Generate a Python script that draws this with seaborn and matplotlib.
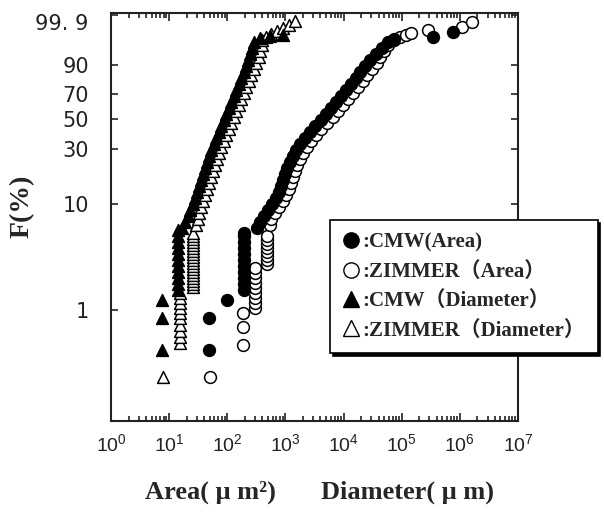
import numpy as np
import pandas as pd
import seaborn as sns
import matplotlib.pyplot as plt
from matplotlib.lines import Line2D
from matplotlib.transforms import ScaledTranslation
from matplotlib.ticker import FixedLocator, NullLocator, LogLocator, FuncFormatter, NullFormatter

# data: x value and cumulative probability F (%)
cmw_dia_x = [7.5, 7.5, 7.5,
             14, 14, 14, 14, 14, 14, 14, 14, 14, 14, 14,
             16.6, 18.7, 21.1, 22.8, 25.6, 27.8, 30.1, 32.6, 35.3, 38.1, 41.4, 44.7,
             48.5, 52.4, 59.0, 63.9, 71.9, 78.0, 87.7, 95.0, 108, 115, 130, 141,
             159, 173, 193, 210, 227, 246, 266, 288, 365, 543, 908]
cmw_dia_f = [0.41, 0.84, 1.25,
             1.56, 1.77, 2.02, 2.31, 2.63, 3.00, 3.42, 3.90, 4.44, 5.06, 5.76,
             6.01, 6.84, 7.77, 8.82, 10.0, 11.4, 12.9, 14.6, 16.5, 18.6, 20.9, 23.5,
             26.4, 29.5, 32.9, 36.6, 40.6, 44.9, 49.3, 54.0, 58.8, 63.7, 68.6, 73.4,
             77.9, 82.2, 86.1, 89.5, 92.4, 94.7, 96.5, 97.8, 98.5, 98.75, 98.86]

zim_dia_x = [7.8,
             15.4, 15.4, 15.4, 15.4, 15.4, 15.4, 15.4, 15.4, 15.4, 15.4,
             25.7, 25.7, 25.7, 25.7, 25.7, 25.7, 25.7, 25.7, 25.7, 25.7,
             25.7, 25.7, 25.7, 25.7, 25.7, 25.7, 25.7, 25.7, 25.7,
             28.9, 30.8, 32.4, 35.1, 38.1, 41.3, 44.7, 48.4, 52.4, 56.7, 61.3, 66.3,
             71.9, 77.9, 87.7, 94.8, 106, 116, 131, 141, 159, 172, 193, 210, 235,
             255, 287, 313, 346, 367, 394, 400, 463, 565, 716, 908, 1153, 1462]
zim_dia_f = [0.227,
             0.48, 0.55, 0.63, 0.72, 0.84, 0.94, 1.05, 1.17, 1.30, 1.46,
             1.66, 1.77, 1.90, 2.02, 2.16, 2.31, 2.47, 2.63, 2.81, 3.00,
             3.21, 3.42, 3.65, 3.90, 4.16, 4.44, 4.74, 5.06, 5.40,
             6.41, 7.29, 8.28, 9.40, 10.7, 12.1, 13.7, 15.5, 17.5, 19.7, 22.2, 24.9,
             27.9, 31.2, 34.7, 38.6, 42.7, 47.1, 51.7, 56.4, 61.3, 66.2, 71.0, 75.7, 80.1,
             84.2, 87.8, 91.0, 93.6, 95.7, 97.2, 98.2, 98.6, 98.97, 99.25, 99.46, 99.63, 99.78]

cmw_area_x = [48.5, 48.5, 98.9,
              190, 190, 190, 190, 190, 190, 190, 190, 190, 190, 190,
              324, 365, 427, 501, 588, 675, 760, 839, 907, 984, 1064, 1175,
              1324, 1520, 1781, 2130, 2595, 3225, 4091, 5084, 6199, 7556, 9206, 11220,
              13680, 16360, 19540, 23820, 29040, 36120, 45810, 58070, 73800, 345200, 762500]
cmw_area_f = [0.41, 0.84, 1.25,
              1.56, 1.77, 2.02, 2.31, 2.63, 3.00, 3.42, 3.90, 4.44, 5.06, 5.40,
              6.01, 6.84, 7.77, 8.82, 10.0, 11.4, 12.9, 14.6, 16.5, 18.6, 20.9, 23.5,
              26.4, 29.5, 32.9, 36.6, 40.6, 44.9, 49.3, 54.0, 58.8, 63.7, 68.6, 73.4,
              77.9, 82.2, 86.1, 89.5, 92.4, 94.7, 96.5, 97.8, 98.34, 98.62, 99.17]

zim_area_x = [50,
              186, 186, 186,
              300, 300, 300, 300, 300, 300, 300, 300, 300,
              482, 482, 482, 482, 482, 482, 482, 482,
              541, 572, 661, 774, 907, 1021, 1150, 1245, 1348, 1458, 1578, 1777,
              2002, 2345, 2749, 3351, 4083, 5174, 6571, 8008, 9763, 11900, 14520,
              17680, 21550, 25250, 30780, 37510, 42260, 49490, 58020, 73800, 93500,
              118600, 144500, 283400, 1090000, 1620000]
zim_area_f = [0.227,
              0.46, 0.69, 0.94,
              1.05, 1.17, 1.30, 1.46, 1.62, 1.81, 2.02, 2.26, 2.52,
              2.75, 3.00, 3.28, 3.58, 3.90, 4.25, 4.64, 5.06,
              6.41, 7.29, 8.28, 9.40, 10.7, 12.1, 13.7, 15.5, 17.5, 19.7, 22.2, 24.9,
              27.9, 31.2, 34.7, 38.6, 42.7, 47.1, 51.7, 56.4, 61.3, 66.2, 71.0,
              75.7, 80.1, 84.2, 87.8, 91.0, 93.6, 95.7, 97.2, 98.2, 98.6,
              98.86, 99.08, 99.33, 99.52, 99.75]

y_ticks = [1, 10, 30, 50, 70, 90, 99.9]
y_labels = ["1", "10", "30", "50", "70", "90", "99. 9"]


# weibull probability scale
def fwd(p):
    p = np.clip(np.asarray(p, dtype=float), 1e-7, 100 - 1e-7)
    return np.log(-np.log(1 - p / 100))


def inv(w):
    return 100 * (1 - np.exp(-np.exp(w)))


sns.set_style("ticks")
serif = ["Liberation Serif", "Noto Sans CJK JP"]

fig = plt.figure(figsize=(6.04, 5.12), dpi=100)
ax = fig.add_axes([0.1838, 0.1777, 0.6738, 0.7969])

series = [
    (zim_dia_x, zim_dia_f, "^", "white"),
    (cmw_dia_x, cmw_dia_f, "^", "black"),
    (zim_area_x, zim_area_f, "o", "white"),
    (cmw_area_x, cmw_area_f, "o", "black"),
]
for xs, fs, mk, fc in series:
    d = pd.DataFrame({"x": xs, "F": fs})
    sns.scatterplot(data=d, x="x", y="F", marker=mk, color=fc, edgecolor="black",
                    linewidth=1.1, s=72, ax=ax, legend=False, zorder=3)

ax.set_xscale("log")
ax.set_yscale("function", functions=(fwd, inv))
ax.set_xlim(1, 1e7)
ax.set_ylim(0.0857, 99.932)

ax.xaxis.set_major_locator(LogLocator(base=10, numticks=20))
ax.xaxis.set_minor_locator(LogLocator(base=10, subs=np.arange(2, 10), numticks=100))
ax.xaxis.set_major_formatter(FuncFormatter(lambda v, p: r"$\mathregular{10^{%d}}$" % round(np.log10(v))))
ax.xaxis.set_minor_formatter(NullFormatter())
ax.yaxis.set_major_locator(FixedLocator(y_ticks))
ax.yaxis.set_minor_locator(NullLocator())
ax.set_yticklabels(y_labels)

ax.tick_params(which="both", direction="in", top=True, right=True, colors="#222222", width=1.2)
ax.tick_params(axis="x", which="major", length=6, pad=9, labelsize=14)
ax.tick_params(axis="x", which="minor", length=3.5)
ax.tick_params(axis="y", which="major", length=5, pad=16, labelsize=15)
for lab in ax.get_xticklabels():
    lab.set_family("Liberation Sans")
for lab in ax.get_yticklabels():
    lab.set_family("DejaVu Sans")
for sp in ax.spines.values():
    sp.set_linewidth(1.5)
    sp.set_color("#222222")
ax.set_xlabel("")
ax.set_ylabel("")

# the 99.9 label sits a little below its tick in the original
top_tick = ax.yaxis.get_major_ticks()[-1]
top_tick.label1.set_transform(top_tick.label1.get_transform()
                              + ScaledTranslation(0, -0.07, fig.dpi_scale_trans))

fig.text(22 / 604, 1 - 206 / 512, "F(%)", rotation=90, ha="center", va="center",
         family=serif, weight="bold", fontsize=20)
fig.text(210 / 604, 1 - 492 / 512, "Area( μ m²)", ha="center", va="center",
         family=serif, weight="bold", fontsize=19)
fig.text(407 / 604, 1 - 492 / 512, "Diameter( μ m)", ha="center", va="center",
         family=serif, weight="bold", fontsize=19)

handles = [
    Line2D([], [], ls="none", marker="o", mfc="black", mec="black", ms=11),
    Line2D([], [], ls="none", marker="o", mfc="white", mec="black", ms=11),
    Line2D([], [], ls="none", marker="^", mfc="black", mec="black", ms=11),
    Line2D([], [], ls="none", marker="^", mfc="white", mec="black", ms=11),
]
labels = [":CMW(Area)", ":ZIMMER（Area）", ":CMW（Diameter）", ":ZIMMER（Diameter）"]
leg = fig.legend(handles, labels, loc="upper left", bbox_to_anchor=(330 / 604, 1 - 220 / 512),
                 bbox_transform=fig.transFigure, frameon=True, fancybox=False,
                 edgecolor="black", shadow={"color": "black", "alpha": 1},
                 borderaxespad=0, handlelength=0.8, handletextpad=0.15,
                 labelspacing=0.45, borderpad=0.6,
                 prop={"family": serif, "weight": "bold", "size": 15})
leg.get_frame().set_linewidth(1.2)

fig.savefig("out.png", dpi=100)
